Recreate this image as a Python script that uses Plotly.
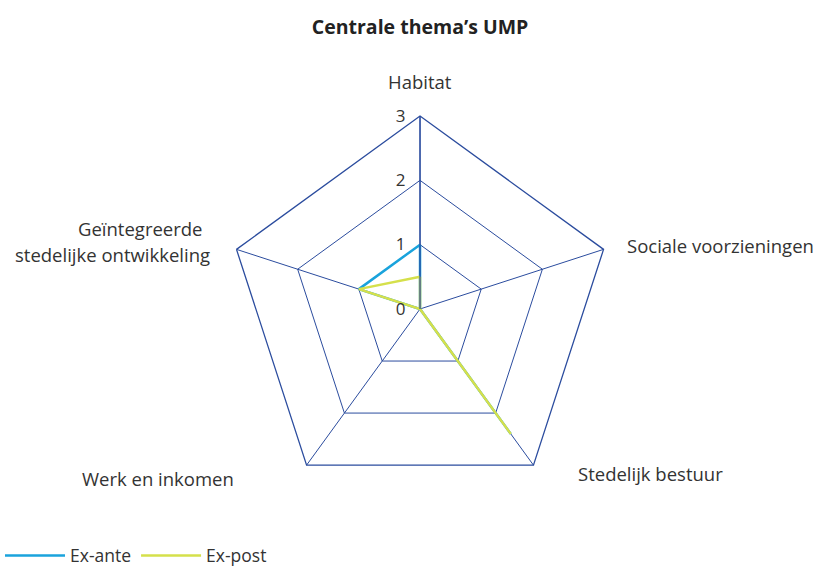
import plotly.graph_objects as go

themes = [
    "Habitat",
    "Sociale voorzieningen",
    "Stedelijk bestuur",
    "Werk en inkomen",
    "Geïntegreerde stedelijke ontwikkeling",
]
ex_ante = [1, 0, 2.4, 0, 1]
ex_post = [0.5, 0, 2.4, 0, 1]

grid_col = "#2b4c9e"
font_fam = "'Open Sans', Lato, sans-serif"
W, H = 814, 569

fig = go.Figure()
fig.add_trace(go.Scatterpolar(
    r=ex_ante + ex_ante[:1], theta=themes + themes[:1], mode="lines",
    name="Ex-ante", line=dict(color="#1aa3dc", width=2.5),
))
fig.add_trace(go.Scatterpolar(
    r=ex_post + ex_post[:1], theta=themes + themes[:1], mode="lines",
    name="Ex-post", line=dict(color="#d5e04b", width=2.5),
))

# axis labels placed beside the pentagon corners (pixel positions -> paper)
label_pos = [
    ("Habitat", 420, 82, "center"),
    ("Sociale voorzieningen", 625, 245, "left"),
    ("Stedelijk bestuur", 576, 473, "left"),
    ("Werk en inkomen", 236, 478, "right"),
    ("Geïntegreerde", 205, 228, "right"),
    ("stedelijke ontwikkeling", 212, 254, "right"),
]
for txt, px_x, px_y, anc in label_pos:
    fig.add_annotation(
        text=txt, xref="paper", yref="paper", x=px_x / W, y=1 - px_y / H,
        xanchor=anc, yanchor="middle", showarrow=False,
        font=dict(size=18.5, color="#333333"),
    )

fig.update_layout(
    width=W, height=H,
    margin=dict(l=0, r=0, t=0, b=0, autoexpand=False),
    paper_bgcolor="white",
    font=dict(family=font_fam, size=18, color="#333333"),
    title=dict(text="<b>Centrale thema’s UMP</b>", x=0.516, xanchor="center",
               y=0.953, yanchor="middle", font=dict(size=19.5, color="#222222")),
    polar=dict(
        domain=dict(x=[0.2789, 0.7531], y=[0.1178, 0.7961]),
        bgcolor="white",
        gridshape="linear",
        angularaxis=dict(
            direction="clockwise", rotation=90,
            showline=True, linecolor=grid_col, linewidth=1.3,
            gridcolor=grid_col, gridwidth=1.3,
            showticklabels=False, ticks="",
        ),
        radialaxis=dict(
            range=[0, 3], tickvals=[0, 1, 2, 3], angle=90, tickangle=90,
            showline=True, linecolor=grid_col, linewidth=1.3,
            gridcolor=grid_col, gridwidth=1.3,
            ticks="outside", ticklen=8, tickcolor="rgba(0,0,0,0)",
            tickfont=dict(size=17, color="#333333"),
            side="counterclockwise",
        ),
    ),
    legend=dict(orientation="h", x=0.0, y=-0.008, xanchor="left", yanchor="bottom",
                font=dict(size=17.5, color="#333333"), itemwidth=60),
)

fig.write_html("out.html", config={"displayModeBar": False},
               post_script="document.body.style.margin='0px';")
